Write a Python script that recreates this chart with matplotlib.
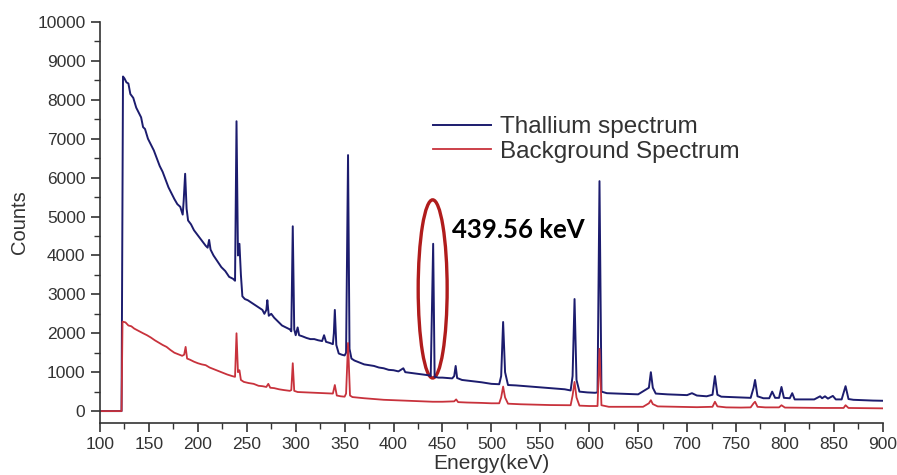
import matplotlib
matplotlib.use("Agg")
import matplotlib.pyplot as plt
from matplotlib.patches import Ellipse
from matplotlib.ticker import MultipleLocator

# Thallium spectrum (energy keV, counts)
tl_energy = [100, 122, 123.5, 125, 127, 129, 131, 134, 137, 140, 142, 144, 146, 149, 152, 155, 158, 161, 164, 167,
             170, 173, 176, 179, 182, 184.5, 185.5, 187, 188.5, 190, 193, 196, 199, 202, 205, 208, 210, 211.5, 213, 216,
             220, 224, 228, 232, 236, 238, 239.5, 241, 242.5, 244, 245.5, 248, 251, 254, 257, 260, 263, 266, 268, 270,
             271, 272.5, 275, 278, 282, 286, 290, 294, 295.5, 297, 298.5, 300, 302, 303.5, 307, 311, 315, 319, 323, 327,
             329, 331, 335, 338, 339, 340, 341.5, 344, 347, 350, 351.5, 353.5, 355, 357, 360, 365, 370, 375, 380, 385,
             390, 395, 400, 405, 410, 412, 418, 424, 430, 436, 438, 440.5, 442, 446, 450, 455, 460, 462, 463.5, 465,
             470, 480, 490, 500, 508, 510, 512, 514, 517, 525, 535, 545, 555, 565, 575, 581, 583, 585, 587, 590,
             598, 606, 608.5, 610.5, 612.5, 618, 628, 640, 650, 661, 663, 665, 668, 680, 690, 700, 705, 710,
             720, 726, 728.5, 731, 735, 745, 755, 765, 768, 769.5, 772, 778, 784, 787, 790, 794, 796.5, 799,
             805, 807.5, 810, 820, 830, 836, 838, 841, 844, 849, 852, 858, 862, 865, 870, 880, 890, 900]
tl_counts = [0, 0, 8600, 8550, 8450, 8420, 8150, 8050, 7800, 7650, 7550, 7300, 7250, 7000, 6850, 6700, 6500, 6300, 6150, 5950,
             5750, 5600, 5450, 5320, 5250, 5050, 5400, 6100, 5200, 4900, 4800, 4650, 4550, 4450, 4350, 4250, 4200, 4400, 4150, 4000,
             3850, 3700, 3600, 3450, 3400, 3350, 7450, 4000, 4300, 3500, 2950, 2880, 2850, 2800, 2750, 2700, 2650, 2600, 2500, 2600,
             2850, 2450, 2500, 2400, 2300, 2200, 2150, 2100, 2050, 4750, 2100, 1950, 2150, 1950, 1920, 1880, 1850, 1850, 1820, 1800,
             1950, 1780, 1750, 1720, 2000, 2600, 1700, 1480, 1450, 1430, 1500, 6580, 1600, 1350, 1300, 1250, 1200, 1180, 1160, 1120,
             1100, 1060, 1050, 1020, 1100, 1000, 980, 960, 940, 920, 900, 4300, 880, 860, 860, 850, 840, 900, 1160, 850,
             800, 770, 740, 700, 690, 900, 2290, 1000, 670, 660, 640, 620, 600, 580, 560, 530, 900, 2880, 800, 500,
             480, 470, 480, 5910, 500, 460, 450, 440, 430, 600, 1000, 600, 450, 430, 420, 410, 460, 400,
             380, 420, 900, 420, 370, 360, 350, 340, 600, 800, 380, 330, 330, 500, 340, 340, 620, 340,
             330, 460, 300, 300, 300, 380, 330, 380, 320, 390, 300, 300, 640, 310, 290, 280, 270, 265]

# Background spectrum
bg_energy = [100, 122, 123, 126, 129, 132, 135, 138, 141, 144, 148, 152, 156, 160, 164, 168, 172, 176, 180, 184,
             186, 187.5, 189, 192, 196, 200, 204, 208, 212, 216, 220, 225, 230, 235, 238, 239.5, 241, 242.5, 244, 247,
             252, 257, 262, 266, 270, 272, 274, 278, 283, 288, 294, 295.5, 297, 298.5, 302, 310, 320, 330, 338, 340,
             342, 346, 350, 351.5, 353.5, 355.5, 358, 370, 380, 390, 400, 410, 420, 430, 440, 450, 462, 464, 466, 475,
             490, 500, 508, 510, 512, 514, 517, 530, 545, 560, 575, 581, 583, 585, 587, 590, 600, 608.5, 610.5, 612.5,
             620, 640, 655, 661, 663, 665, 670, 690, 710, 726, 728.5, 731, 740, 755, 765, 768, 769.5, 772, 780, 794,
             796.5, 800, 820, 840, 860, 862, 865, 880, 900]
bg_counts = [0, 0, 2300, 2280, 2200, 2180, 2120, 2080, 2040, 2000, 1950, 1890, 1820, 1760, 1700, 1650, 1570, 1500, 1460, 1420,
             1450, 1650, 1350, 1320, 1270, 1230, 1200, 1180, 1120, 1080, 1040, 990, 940, 900, 880, 2000, 1000, 1050, 800, 750,
             720, 700, 650, 640, 620, 700, 600, 590, 560, 540, 520, 540, 1230, 520, 490, 480, 470, 460, 450, 670,
             400, 380, 370, 450, 1750, 400, 360, 330, 310, 290, 280, 270, 260, 250, 240, 240, 250, 300, 230, 220,
             210, 200, 200, 350, 630, 350, 190, 175, 165, 155, 150, 150, 400, 750, 350, 140, 130, 130, 1600, 150,
             110, 110, 110, 200, 280, 180, 120, 110, 100, 110, 240, 120, 95, 90, 95, 200, 240, 110, 95, 95,
             150, 90, 85, 80, 80, 150, 80, 75, 70]

plt.rcParams["font.family"] = ["Liberation Sans", "DejaVu Sans"]

fig = plt.figure(figsize=(8.97, 4.75), dpi=100)
ax = fig.add_axes([0.1115, 0.110, 0.8726, 0.8436])

ax.plot(tl_energy, tl_counts, color="#1c1c6e", lw=1.4, label="Thallium spectrum")
ax.plot(bg_energy, bg_counts, color="#c8323c", lw=1.3, label="Background Spectrum")

ax.set_xlim(100, 900)
ax.set_ylim(-300, 10000)
ax.xaxis.set_major_locator(MultipleLocator(50))
ax.xaxis.set_minor_locator(MultipleLocator(25))
ax.yaxis.set_major_locator(MultipleLocator(1000))
ax.yaxis.set_minor_locator(MultipleLocator(500))
for s in ["top", "right"]:
    ax.spines[s].set_visible(False)
for s in ["left", "bottom"]:
    ax.spines[s].set_linewidth(1.2)
    ax.spines[s].set_color("#333333")
ax.tick_params(which="major", direction="out", length=6.5, width=1.2, colors="#333333", labelsize=12.5, pad=4)
ax.tick_params(which="minor", direction="out", length=4, width=1.0, colors="#333333")

ax.set_xlabel("Energy(keV)", fontsize=15, color="#333333", labelpad=1)
ax.set_ylabel("Counts", fontsize=14.5, color="#333333", labelpad=6)

leg = ax.legend(loc="upper left", bbox_to_anchor=(0.4255, 0.765), frameon=False, fontsize=17.5,
                handlelength=2.4, handletextpad=0.35, labelspacing=0.1, borderpad=0, borderaxespad=0)
for t in leg.get_texts():
    t.set_color("#333333")

ax.add_patch(Ellipse((440, 3140), 29.6, 4580, fill=False, edgecolor="#b01c1c", lw=2.4))
ax.text(460, 4650, "439.56 keV", fontsize=18.5, fontweight="bold", family=["Lato", "DejaVu Sans"],
        va="center", ha="left", color="black")

fig.savefig("out.png", dpi=100)
